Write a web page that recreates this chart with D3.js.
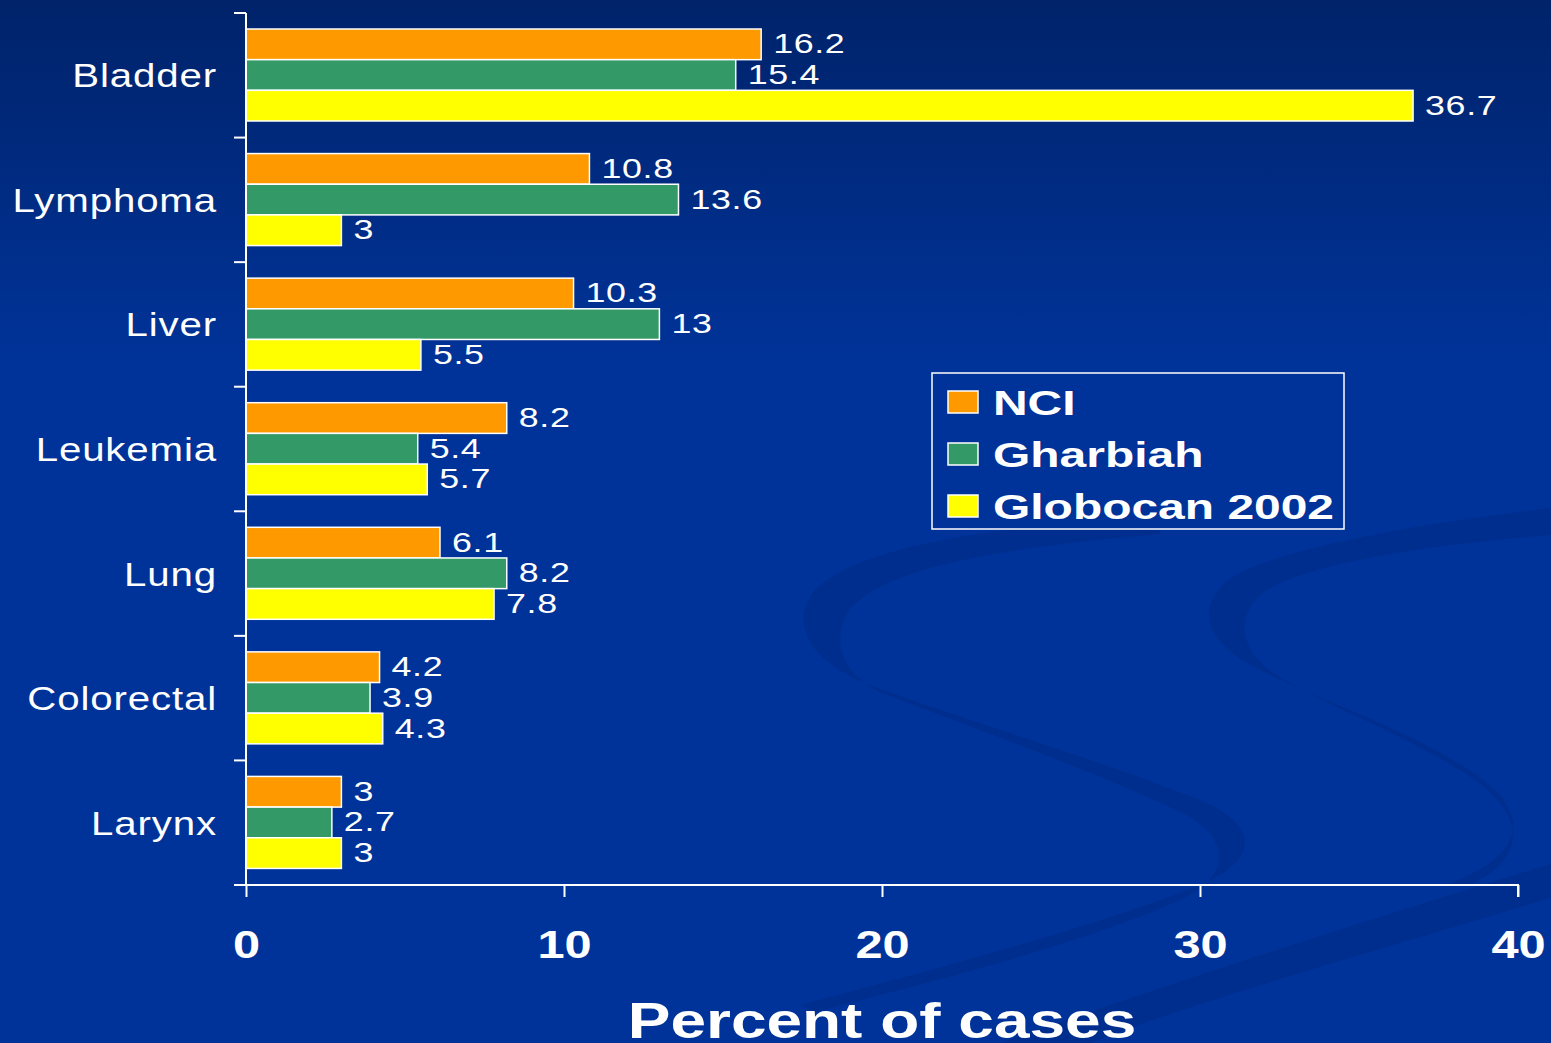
<!DOCTYPE html>
<html>
<head>
<meta charset="utf-8">
<script src="https://cdn.jsdelivr.net/npm/d3@7"></script>
<style>
    body { margin: 0; padding: 0; background: #003399; overflow: hidden; }
    text { font-family: "Liberation Sans", Arial, sans-serif; fill: #ffffff; }
</style>
</head>
<body>
<div id="chart"></div>
<script>
const categories = ["Bladder", "Lymphoma", "Liver", "Leukemia", "Lung", "Colorectal", "Larynx"];
const seriesNames = ["NCI", "Gharbiah", "Globocan 2002"];
const seriesColors = ["#ff9900", "#339966", "#ffff00"];
const nciValues = [16.2, 10.8, 10.3, 8.2, 6.1, 4.2, 3];
const gharbiahValues = [15.4, 13.6, 13, 5.4, 8.2, 3.9, 2.7];
const globocanValues = [36.7, 3, 5.5, 5.7, 7.8, 4.3, 3];
const xTicks = [0, 10, 20, 30, 40];

const width = 1551, height = 1043;

let svg = d3.select("#chart")
    .append("svg")
    .attr("width", width)
    .attr("height", height);

// background: blue slide with darker swirls
let defs = svg.append("defs");
let grad = defs.append("linearGradient")
    .attr("id", "bg-grad")
    .attr("x1", 0).attr("y1", 0).attr("x2", 0).attr("y2", 1);
grad.append("stop").attr("offset", "0%").attr("stop-color", "#00236a");
grad.append("stop").attr("offset", "35%").attr("stop-color", "#003399");
grad.append("stop").attr("offset", "100%").attr("stop-color", "#003399");

svg.append("rect")
    .attr("width", width)
    .attr("height", height)
    .attr("fill", "url(#bg-grad)");

let swirls = svg.append("g")
    .style("fill", "#002c88")
    .style("fill-opacity", 0.6)
    .style("stroke", "none");
swirls.append("path")
    .attr("d", "M1160,518 C1000,525 860,545 815,590 C790,620 805,660 870,685 C950,715 1100,760 1200,800 " +
        "C1260,825 1260,860 1200,885 C1100,925 950,965 800,1005 L815,1012 C960,975 1110,935 1190,895 " +
        "C1232,870 1228,835 1180,812 C1080,765 950,720 880,692 C840,672 832,640 848,612 C880,568 1000,548 1160,534 Z");
swirls.append("path")
    .attr("d", "M1551,508 C1400,525 1250,555 1222,585 C1195,615 1210,645 1260,670 C1330,705 1440,740 1495,790 " +
        "C1530,825 1515,860 1445,885 L1470,885 C1525,860 1525,820 1482,785 C1420,740 1312,700 1272,672 " +
        "C1238,648 1236,614 1264,592 C1310,562 1430,545 1551,535 Z");
swirls.append("path")
    .attr("d", "M1551,864 L1551,898 C1380,950 1200,1000 1090,1043 L1000,1043 C1150,990 1350,925 1551,864 Z");

// scales
let x = d3.scaleLinear()
    .domain([0, 40])
    .range([246, 1518]);

let y0 = d3.scaleBand()
    .domain(categories)
    .range([13, 885])
    .padding(0);

let y1 = d3.scaleBand()
    .domain(seriesNames)
    .range([16, 108])
    .padding(0);

const seriesValues = [nciValues, gharbiahValues, globocanValues];

function rowData(d, i) {
    return seriesNames.map(function(s, j) { return {series: s, idx: j, value: seriesValues[j][i]}; });
}

// bars
let groups = svg.append("g")
    .selectAll("g")
    .data(categories)
    .enter()
    .append("g")
    .attr("transform", function(d) { return "translate(0," + y0(d) + ")"; });

groups.selectAll("rect")
    .data(rowData)
    .enter()
    .append("rect")
    .attr("x", x(0))
    .attr("y", function(d) { return y1(d.series); })
    .attr("width", function(d) { return x(d.value) - x(0); })
    .attr("height", y1.bandwidth())
    .style("fill", function(d) { return seriesColors[d.idx]; })
    .style("stroke", "#ffffff")
    .style("stroke-width", 1.5);

// text in the slide is stretched sideways, so scale x only
groups.selectAll("text.value")
    .data(rowData)
    .enter()
    .append("text")
    .attr("class", "value")
    .attr("transform", function(d) {
        return "translate(" + (x(d.value) + 12) + "," + (y1(d.series) + y1.bandwidth() / 2 + 9) + ") scale(1.28,1)";
    })
    .style("font-size", "28px")
    .style("letter-spacing", "0.5px")
    .text(function(d) { return d.value; });

// y axis
let yAxis = svg.append("g");
yAxis.append("line")
    .attr("x1", x(0)).attr("x2", x(0))
    .attr("y1", y0.range()[0]).attr("y2", y0.range()[1])
    .style("stroke", "#ffffff").style("stroke-width", 2);
let yBounds = categories.map(function(c) { return y0(c); }).concat([y0.range()[1]]);
yAxis.selectAll("line.tick")
    .data(yBounds)
    .enter()
    .append("line")
    .attr("class", "tick")
    .attr("x1", x(0) - 12).attr("x2", x(0))
    .attr("y1", function(d) { return d; }).attr("y2", function(d) { return d; })
    .style("stroke", "#ffffff").style("stroke-width", 2);
yAxis.selectAll("text")
    .data(categories)
    .enter()
    .append("text")
    .attr("transform", function(d) {
        return "translate(217," + (y0(d) + y0.bandwidth() / 2 + 12) + ") scale(1.22,1)";
    })
    .attr("text-anchor", "end")
    .style("font-size", "33px")
    .style("letter-spacing", "0.7px")
    .text(function(d) { return d; });

// x axis
let xAxis = svg.append("g")
    .attr("transform", "translate(0,885)")
    .call(d3.axisBottom(x).tickValues(xTicks).tickSize(12).tickFormat(d3.format("d")));
xAxis.select(".domain").attr("d", "M" + x(0) + ",0H" + x(40) + "V12")
    .style("stroke", "#ffffff").style("stroke-width", 2);
xAxis.selectAll(".tick line").style("stroke", "#ffffff").style("stroke-width", 2);
xAxis.selectAll(".tick text")
    .attr("y", null)
    .attr("dy", null)
    .attr("transform", "translate(0,73) scale(1.25,1)")
    .style("font-family", "'Liberation Sans', Arial, sans-serif")
    .style("font-size", "39px")
    .style("font-weight", "bold")
    .style("fill", "#ffffff");

svg.append("text")
    .attr("transform", "translate(" + ((x(0) + x(40)) / 2) + ",1038) scale(1.28,1)")
    .attr("text-anchor", "middle")
    .style("font-size", "50px")
    .style("font-weight", "bold")
    .text("Percent of cases");

// legend
let legend = svg.append("g").attr("transform", "translate(932,373)");
legend.append("rect")
    .attr("width", 412)
    .attr("height", 156)
    .style("fill", "#003399")
    .style("stroke", "#ffffff")
    .style("stroke-width", 1.5);
let items = legend.selectAll("g")
    .data(seriesNames)
    .enter()
    .append("g")
    .attr("transform", function(d, i) { return "translate(0," + (30 + i * 52) + ")"; });
items.append("rect")
    .attr("x", 16).attr("y", -12)
    .attr("width", 30).attr("height", 22)
    .style("fill", function(d, i) { return seriesColors[i]; })
    .style("stroke", "#ffffff")
    .style("stroke-width", 1.5);
items.append("text")
    .attr("transform", "translate(61,12) scale(1.37,1)")
    .style("font-size", "35px")
    .style("font-weight", "bold")
    .text(function(d) { return d; });
</script>
</body>
</html>
